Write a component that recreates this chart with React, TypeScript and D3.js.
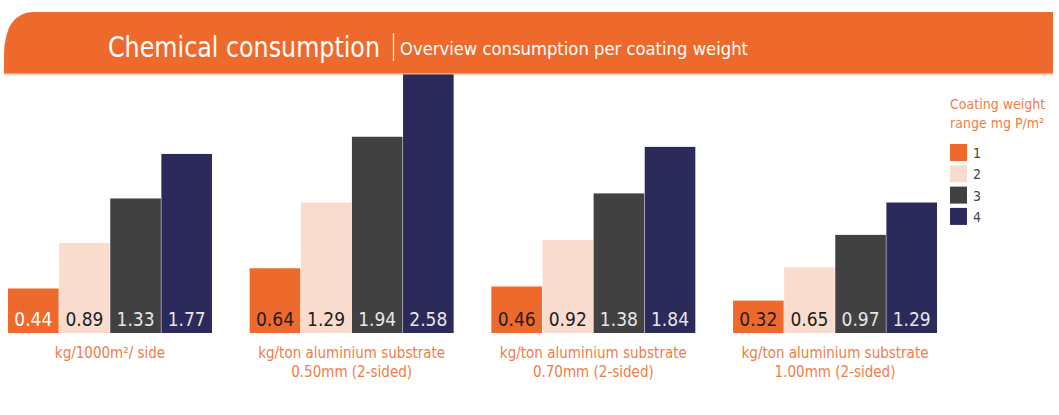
import React, { useEffect, useRef } from 'react';
import * as d3 from 'd3';

const groups = [
  ['kg/1000m²/ side'],
  ['kg/ton aluminium substrate', '0.50mm (2-sided)'],
  ['kg/ton aluminium substrate', '0.70mm (2-sided)'],
  ['kg/ton aluminium substrate', '1.00mm (2-sided)'],
];
const ranges = ['1', '2', '3', '4'];
const range1 = [0.44, 0.64, 0.46, 0.32];
const range2 = [0.89, 1.29, 0.92, 0.65];
const range3 = [1.33, 1.94, 1.38, 0.97];
const range4 = [1.77, 2.58, 1.84, 1.29];

const colors = ['#ee6a2c', '#f9dccd', '#414142', '#2b2a5a'];
const labelColors = ['#1e1e1e', '#1e1e1e', '#e6e6e6', '#e6e6e6'];
const font = "'DejaVu Sans Condensed', 'DejaVu Sans', sans-serif";

export default function App() {
  const ref = useRef<SVGSVGElement>(null);

  useEffect(() => {
    const svg = d3.select(ref.current);
    svg.selectAll('*').remove();

    const width = 1059;
    const height = 415;
    const baseline = 333;
    const series = [range1, range2, range3, range4];

    const x0 = d3.scaleBand<number>()
      .domain(d3.range(groups.length))
      .range([8, 937])
      .paddingInner(0.156);

    const x1 = d3.scaleBand<number>()
      .domain(d3.range(ranges.length))
      .range([0, x0.bandwidth()])
      .paddingInner(0.01);

    const y = d3.scaleLinear()
      .domain([0, 2.6])
      .range([baseline, 70]);

    svg.attr('width', width).attr('height', height);

    const g = svg.selectAll('g.group')
      .data(groups)
      .join('g')
      .attr('class', 'group')
      .attr('transform', (_, i) => `translate(${x0(i)},0)`);

    g.each(function (_, gi) {
      const sel = d3.select(this);
      series.forEach((values, si) => {
        const v = values[gi];
        sel.append('rect')
          .attr('x', x1(si)!)
          .attr('y', y(v))
          .attr('width', x1.bandwidth())
          .attr('height', baseline - y(v))
          .attr('fill', colors[si]);
        sel.append('text')
          .attr('x', x1(si)! + x1.bandwidth() / 2)
          .attr('y', baseline - 7)
          .attr('text-anchor', 'middle')
          .attr('font-family', font)
          .attr('font-size', 19)
          .attr('fill', si === 0 && gi === 0 ? '#ffffff' : labelColors[si])
          .text(v.toFixed(2));
      });
    });

    // category captions under each group
    g.append('text')
      .attr('x', x0.bandwidth() / 2)
      .attr('text-anchor', 'middle')
      .attr('font-family', font)
      .attr('font-size', 15)
      .attr('fill', '#f07c48')
      .selectAll('tspan')
      .data(d => d)
      .join('tspan')
      .attr('x', x0.bandwidth() / 2)
      .attr('y', (_, i) => 358 + i * 19)
      .text(d => d);

    // header band
    const header = svg.append('g');
    header.append('path')
      .attr('d', 'M4,74 L4,54 Q5,14 32,12 L1053,12 L1053,74 Z')
      .attr('fill', '#ee6a2c');
    header.append('rect')
      .attr('x', 4).attr('y', 73).attr('width', 1049).attr('height', 1.5)
      .attr('fill', '#f5a882');
    header.append('text')
      .attr('x', 108).attr('y', 57)
      .attr('font-family', font)
      .attr('font-size', 28)
      .attr('textLength', 272)
      .attr('lengthAdjust', 'spacingAndGlyphs')
      .attr('fill', '#ffffff')
      .text('Chemical consumption');
    header.append('line')
      .attr('x1', 393.5).attr('x2', 393.5)
      .attr('y1', 33).attr('y2', 61)
      .attr('stroke', '#ffffff').attr('stroke-width', 1.2);
    header.append('text')
      .attr('x', 400).attr('y', 55)
      .attr('font-family', font)
      .attr('font-size', 18)
      .attr('textLength', 348)
      .attr('lengthAdjust', 'spacingAndGlyphs')
      .attr('fill', '#ffffff')
      .text('Overview consumption per coating weight');

    // legend
    const legend = svg.append('g').attr('transform', 'translate(950,0)');
    legend.append('text')
      .attr('font-family', font)
      .attr('font-size', 14)
      .attr('fill', '#f07c48')
      .selectAll('tspan')
      .data(['Coating weight', 'range mg P/m²'])
      .join('tspan')
      .attr('x', 0)
      .attr('y', (_, i) => 109 + i * 19)
      .text(d => d);

    const items = legend.selectAll('g.item')
      .data(ranges)
      .join('g')
      .attr('class', 'item')
      .attr('transform', (_, i) => `translate(0,${144 + i * 21.3})`);
    items.append('rect')
      .attr('width', 17).attr('height', 17)
      .attr('fill', (_, i) => colors[i]);
    items.append('text')
      .attr('x', 23).attr('y', 14)
      .attr('font-family', font)
      .attr('font-size', 14)
      .attr('fill', '#444444')
      .text(d => d);
  }, []);

  return (
    <div style={{ position: 'absolute', left: 0, top: 0 }}>
      <svg ref={ref} />
    </div>
  );
}
